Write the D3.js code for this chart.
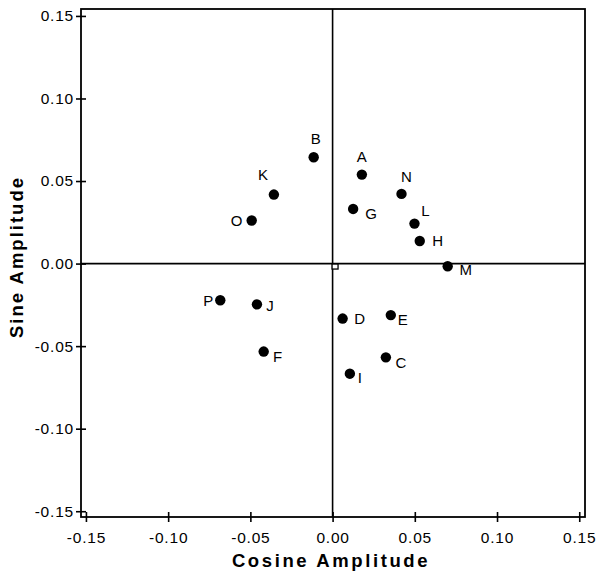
<!DOCTYPE html>
<html>
<head>
<meta charset="utf-8">
<script src="https://cdn.jsdelivr.net/npm/d3@7"></script>
<style>
  html, body { margin: 0; padding: 0; background: #fff; }
  svg { display: block; }
  text { font-family: "Liberation Sans", Arial, Helvetica, sans-serif; fill: #000; }
</style>
</head>
<body>
<svg id="chart" width="596" height="576"></svg>
<script>
// ---- data ----
const labels = ["A","B","C","D","E","F","G","H","I","J","K","L","M","N","O","P"];
const cosineAmp = [0.0178,-0.0115,0.0324,0.0061,0.0354,-0.0419,0.0125,0.0530,0.0105,-0.0460,-0.0357,0.0498,0.0700,0.0419,-0.0492,-0.0683];
const sineAmp   = [0.0539,0.0644,-0.0568,-0.0333,-0.0312,-0.0533,0.0331,0.0137,-0.0667,-0.0247,0.0418,0.0242,-0.0016,0.0422,0.0261,-0.0222];
const xTicks = [-0.15,-0.10,-0.05,0.00,0.05,0.10,0.15];
const yTicks = [-0.15,-0.10,-0.05,0.00,0.05,0.10,0.15];
const originMarker = [0.0015,-0.0018];
const xTitle = "Cosine Amplitude";
const yTitle = "Sine Amplitude";

// ---- layout (label offsets in px relative to dot centre) ----
const labelOffset = {
  A:[0,-18], B:[2,-19], C:[15,5], D:[17,0], E:[12,4], F:[14,5], G:[18,5], H:[18,0],
  I:[10,4], J:[13,1], K:[-11,-20], L:[11,-13], M:[18,3], N:[5,-17], O:[-15,0], P:[-12,0]
};

(function () {
const svg = d3.select("#chart");
const pL = 81, pR = 585, pT = 9, pB = 517;

const x = d3.scaleLinear().domain([-0.153, 0.1535]).range([pL, pR]);
const y = d3.scaleLinear().domain([-0.1535, 0.1542]).range([pB, pT]);

// frame
svg.append("rect")
  .attr("x", pL).attr("y", pT)
  .attr("width", pR - pL).attr("height", pB - pT)
  .attr("fill", "none").attr("stroke", "#000").attr("stroke-width", 1.8);

// zero lines
svg.append("line")
  .attr("x1", pL).attr("x2", pR)
  .attr("y1", y(0)).attr("y2", y(0))
  .attr("stroke", "#000").attr("stroke-width", 1.6);
svg.append("line")
  .attr("x1", x(0)).attr("x2", x(0))
  .attr("y1", pT).attr("y2", pB)
  .attr("stroke", "#000").attr("stroke-width", 1.6);

// axes
const f2 = d3.format(".2f");
const fmt = v => f2(v).replace("\u2212", "-");
const xAxis = d3.axisBottom(x).tickValues(xTicks).tickFormat(fmt).tickSize(5).tickPadding(7);
const gx = svg.append("g").attr("transform", `translate(0,${pB})`).call(xAxis);
gx.select(".domain").remove();
gx.selectAll(".tick line").attr("y1", -5).attr("y2", 5).attr("stroke", "#000").attr("stroke-width", 1.6);
gx.selectAll(".tick text")
  .attr("y", 26).attr("dy", null)
  .style("font-size", "15.5px").style("letter-spacing", "0.8px")
  .style("font-family", '"Liberation Sans", Arial, sans-serif');

const yAxis = d3.axisLeft(y).tickValues(yTicks).tickFormat(fmt).tickSize(5).tickPadding(6);
const gy = svg.append("g").attr("transform", `translate(${pL},0)`).call(yAxis);
gy.select(".domain").remove();
gy.selectAll(".tick line").attr("x1", -5).attr("x2", 5).attr("stroke", "#000").attr("stroke-width", 1.6);
gy.selectAll(".tick text")
  .attr("x", -7)
  .style("font-size", "15.5px").style("letter-spacing", "0.8px")
  .style("font-family", '"Liberation Sans", Arial, sans-serif');

// origin marker
svg.append("rect")
  .attr("x", x(originMarker[0]) - 3).attr("y", y(originMarker[1]) - 2.5)
  .attr("width", 6).attr("height", 5)
  .attr("fill", "#fff").attr("stroke", "#000").attr("stroke-width", 1.3);

// points
const pts = labels.map((l, i) => ({ label: l, cx: cosineAmp[i], sy: sineAmp[i] }));
svg.append("g").selectAll("circle").data(pts).join("circle")
  .attr("cx", d => x(d.cx)).attr("cy", d => y(d.sy))
  .attr("r", 5.2).attr("fill", "#000");

svg.append("g").selectAll("text").data(pts).join("text")
  .attr("x", d => x(d.cx) + labelOffset[d.label][0])
  .attr("y", d => y(d.sy) + labelOffset[d.label][1])
  .attr("text-anchor", "middle").attr("dominant-baseline", "central")
  .style("font-size", "15px")
  .text(d => d.label);

// titles
svg.append("text")
  .attr("x", 331).attr("y", 567)
  .attr("text-anchor", "middle")
  .style("font-size", "18.5px").style("font-weight", "bold").style("letter-spacing", "2.6px")
  .text(xTitle);

svg.append("text")
  .attr("transform", "translate(23,257) rotate(-90)")
  .attr("text-anchor", "middle")
  .style("font-size", "18.5px").style("font-weight", "bold").style("letter-spacing", "2px")
  .text(yTitle);
})();
</script>
</body>
</html>
